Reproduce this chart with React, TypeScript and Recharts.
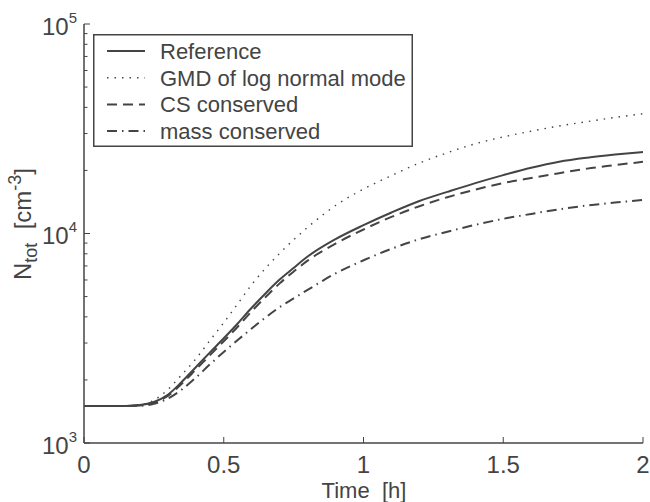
import React from "react";
import { LineChart, Line, XAxis, YAxis, Legend } from "recharts";

// time axis [h]
const time = [0, 0.1, 0.2, 0.25, 0.3, 0.35, 0.4, 0.45, 0.5, 0.55, 0.6, 0.65, 0.7, 0.75, 0.8, 0.9, 1.0, 1.1, 1.2, 1.3, 1.4, 1.5, 1.6, 1.7, 1.8, 1.9, 2.0];

// N_tot [cm^-3] for each run
const reference = [1500, 1500, 1520, 1570, 1700, 1960, 2300, 2700, 3160, 3720, 4420, 5190, 6030, 6850, 7760, 9400, 10960, 12600, 14300, 15800, 17400, 19000, 20600, 22000, 23000, 23800, 24500];
const gmdLogNormal = [1500, 1500, 1520, 1600, 1800, 2120, 2520, 3080, 3750, 4620, 5700, 6840, 8040, 9330, 10700, 13600, 16300, 18900, 21700, 24300, 26800, 28900, 30800, 32600, 34200, 35800, 37300];
const csConserved = [1500, 1500, 1510, 1560, 1680, 1920, 2240, 2620, 3060, 3590, 4250, 4980, 5780, 6580, 7420, 8950, 10450, 12000, 13500, 14900, 16200, 17400, 18400, 19400, 20400, 21200, 22000];
const massConserved = [1500, 1500, 1505, 1540, 1630, 1800, 2050, 2370, 2720, 3100, 3520, 3980, 4450, 4900, 5380, 6450, 7450, 8450, 9400, 10200, 11000, 11750, 12400, 13050, 13600, 14050, 14450];

const xTicks = [0, 0.5, 1, 1.5, 2];
const yMajor = [1000, 10000, 100000];
const yMinor = [2000, 3000, 4000, 5000, 6000, 7000, 8000, 9000, 20000, 30000, 40000, 50000, 60000, 70000, 80000, 90000];

const data = time.map((t, i) => ({
  t,
  reference: reference[i],
  gmd: gmdLogNormal[i],
  cs: csConserved[i],
  mass: massConserved[i],
}));

const ink = "#444444";
const font = "'Liberation Sans', Arial, Helvetica, sans-serif";

const series = [
  { key: "reference", name: "Reference", dash: undefined as string | undefined },
  { key: "gmd", name: "GMD of log normal mode", dash: "1.5 6" },
  { key: "cs", name: "CS conserved", dash: "10 6" },
  { key: "mass", name: "mass conserved", dash: "10 5 1.5 5" },
];

const yTicks = [...yMajor, ...yMinor].sort((a, b) => a - b);

function LeftTick(props: any) {
  const { x, y, payload } = props;
  const major = yMajor.includes(payload.value);
  return (
    <g>
      <line x1={x} x2={x + (major ? 6 : 3.5)} y1={y} y2={y} stroke={ink} strokeWidth={1} />
      {major && (
        <text x={x - 7} y={y + 10.5} textAnchor="end" fontSize={24} fill={ink} fontFamily={font}>
          10
          <tspan fontSize={15} dy={-12}>
            {Math.round(Math.log10(payload.value))}
          </tspan>
        </text>
      )}
    </g>
  );
}

function RightTick(props: any) {
  const { x, y, payload } = props;
  const major = yMajor.includes(payload.value);
  return <line x1={x} x2={x - (major ? 6 : 3.5)} y1={y} y2={y} stroke={ink} strokeWidth={1} />;
}

function BottomTick(props: any) {
  const { x, y, payload } = props;
  return (
    <g>
      <line x1={x} x2={x} y1={y} y2={y - 6} stroke={ink} strokeWidth={1} />
      <text x={x} y={y + 29.5} textAnchor="middle" fontSize={24} fill={ink} fontFamily={font}>
        {String(payload.value)}
      </text>
    </g>
  );
}

function TopTick(props: any) {
  const { x, y } = props;
  return <line x1={x} x2={x} y1={y} y2={y + 6} stroke={ink} strokeWidth={1} />;
}

function XLabel() {
  return (
    <text x={364} y={498} textAnchor="middle" fontSize={22} fill={ink} fontFamily={font} style={{ whiteSpace: "pre" }}>
      Time  [h]
    </text>
  );
}

function YLabel() {
  return (
    <text
      transform="translate(31, 224) rotate(-90)"
      textAnchor="middle"
      fontSize={24}
      fill={ink}
      fontFamily={font}
      style={{ whiteSpace: "pre" }}
    >
      N
      <tspan fontSize={18} dy={6}>tot</tspan>
      <tspan dy={-6}>{"  [cm"}</tspan>
      <tspan fontSize={18} dy={-10}>{"-3"}</tspan>
      <tspan dy={10}>]</tspan>
    </text>
  );
}

function LegendBox() {
  return (
    <svg width={320} height={113} style={{ display: "block" }}>
      <rect x={0.75} y={0.75} width={318.5} height={111.5} fill="#fff" stroke={ink} strokeWidth={1.5} />
      {series.map((s, i) => {
        const cy = 17 + i * 26.7;
        return (
          <g key={s.key}>
            <line x1={14} x2={52} y1={cy} y2={cy} stroke={ink} strokeWidth={s.key === "gmd" ? 1.4 : 2} strokeDasharray={s.dash} />
            <text x={67} y={cy + 8} fontSize={22} fill={ink} fontFamily={font}>
              {s.name}
            </text>
          </g>
        );
      })}
    </svg>
  );
}

export default function App() {
  return (
    <div style={{ position: "absolute", left: 0, top: 0, background: "#fff" }}>
      <LineChart width={650} height={502} data={data} margin={{ top: 24, right: 7, bottom: 0, left: 0 }}>
        <XAxis
          xAxisId="bottom"
          dataKey="t"
          type="number"
          domain={[0, 2]}
          ticks={xTicks}
          interval={0}
          height={59}
          tickSize={0}
          tickMargin={0}
          tick={<BottomTick />}
          axisLine={{ stroke: ink, strokeWidth: 1.5 }}
          tickLine={false}
          allowDataOverflow
          label={<XLabel />}
        />
        <XAxis
          xAxisId="top"
          orientation="top"
          dataKey="t"
          type="number"
          domain={[0, 2]}
          ticks={[0.5, 1, 1.5]}
          interval={0}
          height={0}
          tickSize={0}
          tickMargin={0}
          tick={<TopTick />}
          axisLine={{ stroke: ink, strokeWidth: 1.5 }}
          tickLine={false}
          allowDataOverflow
        />
        <YAxis
          yAxisId="left"
          type="number"
          scale="log"
          domain={[1000, 100000]}
          ticks={yTicks}
          interval={0}
          width={84}
          tickSize={0}
          tickMargin={0}
          tick={<LeftTick />}
          axisLine={{ stroke: ink, strokeWidth: 1.5 }}
          tickLine={false}
          allowDataOverflow
          label={<YLabel />}
        />
        <YAxis
          yAxisId="right"
          orientation="right"
          type="number"
          scale="log"
          domain={[1000, 100000]}
          ticks={yTicks}
          interval={0}
          width={0}
          tickSize={0}
          tickMargin={0}
          tick={<RightTick />}
          axisLine={{ stroke: ink, strokeWidth: 1.5 }}
          tickLine={false}
          allowDataOverflow
        />
        <Legend
          layout="horizontal"
          verticalAlign="middle"
          align="center"
          wrapperStyle={{ left: 93, top: 34, width: 320, height: 113 }}
          content={() => <LegendBox />}
        />
        {series.map((s) => (
          <Line
            key={s.key}
            xAxisId="bottom"
            yAxisId="left"
            dataKey={s.key}
            name={s.name}
            type="monotone"
            stroke={ink}
            strokeWidth={s.key === "gmd" ? 1.4 : 2}
            strokeDasharray={s.dash}
            dot={false}
            activeDot={false}
            isAnimationActive={false}
          />
        ))}
      </LineChart>
    </div>
  );
}
